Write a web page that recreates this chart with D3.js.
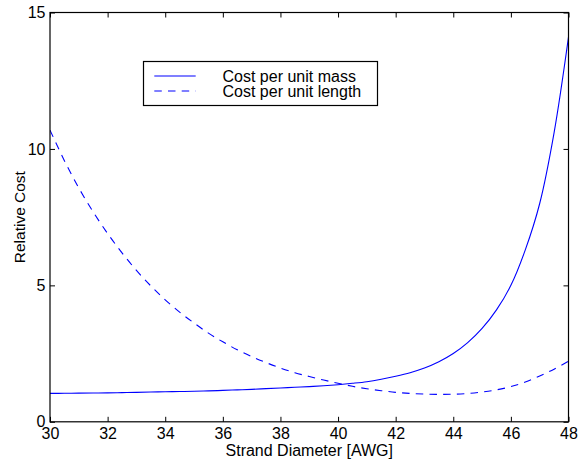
<!DOCTYPE html>
<html>
<head>
<meta charset="utf-8">
<script src="https://cdn.jsdelivr.net/npm/d3@7"></script>
<style>
  html, body { margin: 0; padding: 0; background: #fff; }
  svg { display: block; }
  text { font-family: "Liberation Sans", Arial, Helvetica, sans-serif; fill: #000; }
</style>
</head>
<body>
<svg id="chart" width="581" height="461"></svg>
<script>
// ---- data ----
const awg = [30, 30.5, 31, 31.5, 32, 32.5, 33, 33.5, 34, 34.5, 35, 35.5, 36, 36.5, 37, 37.5, 38, 38.5, 39, 39.5,
             40, 40.5, 41, 41.5, 42, 42.5, 43, 43.5, 44, 44.5, 45, 45.5, 46, 46.5, 47, 47.5, 48];
const costPerMass = [1.04, 1.045, 1.05, 1.055, 1.06, 1.07, 1.08, 1.09, 1.10, 1.11, 1.12, 1.135, 1.15, 1.17, 1.19, 1.215, 1.24, 1.265, 1.29, 1.32,
                     1.36, 1.41, 1.47, 1.56, 1.67, 1.80, 1.97, 2.2, 2.5, 2.9, 3.42, 4.1, 5.0, 6.3, 8.0, 10.6, 14.1];
const costPerLength = [10.69, 9.57, 8.57, 7.69, 6.90, 6.19, 5.55, 4.98, 4.47, 4.02, 3.62, 3.25, 2.93, 2.64, 2.39, 2.17, 1.97, 1.80, 1.66, 1.53,
                       1.41, 1.30, 1.21, 1.14, 1.08, 1.04, 1.015, 1.005, 1.01, 1.035, 1.09, 1.17, 1.29, 1.46, 1.68, 1.93, 2.22];
const seriesNames = ["Cost per unit mass", "Cost per unit length"];
const xTicks = [30, 32, 34, 36, 38, 40, 42, 44, 46, 48];
const yTicks = [0, 5, 10, 15];
const xLabel = "Strand Diameter [AWG]";
const yLabel = "Relative Cost";

// ---- layout ----
const L = 50, R = 568.5, T = 12.5, B = 421.8;
const svg = d3.select("#chart");
const x = d3.scaleLinear().domain([30, 48]).range([L, R]);
const y = d3.scaleLinear().domain([0, 15]).range([B, T]);
const blue = "#0000ff";

// curves (clipped to axes)
svg.append("clipPath").attr("id", "clip")
  .append("rect").attr("x", L).attr("y", T).attr("width", R - L).attr("height", B - T);

const line = d3.line().x(d => x(d[0])).y(d => y(d[1])).curve(d3.curveCatmullRom.alpha(0.5));
const g = svg.append("g").attr("clip-path", "url(#clip)");
g.append("path")
  .attr("d", line(awg.map((a, i) => [a, costPerMass[i]])))
  .attr("fill", "none").attr("stroke", blue).attr("stroke-width", 1.1);
g.append("path")
  .attr("d", line(awg.map((a, i) => [a, costPerLength[i]])))
  .attr("fill", "none").attr("stroke", blue).attr("stroke-width", 1.1)
  .attr("stroke-dasharray", "7.5,6.2");

// axes
const fs = 16;
function styleAxis(sel) {
  sel.select(".domain").remove();
  sel.selectAll(".tick line").attr("stroke", "#000").attr("stroke-width", 1);
  sel.selectAll(".tick text").attr("font-size", fs).attr("font-family", "Liberation Sans, Arial, sans-serif").attr("fill", "#000");
}
svg.append("g").attr("transform", `translate(0,${B})`)
  .call(d3.axisBottom(x).tickValues(xTicks).tickFormat(d3.format("d")).tickSize(-5).tickPadding(6))
  .call(styleAxis);
svg.append("g").attr("transform", `translate(0,${T})`)
  .call(d3.axisTop(x).tickValues(xTicks).tickFormat("").tickSize(-5))
  .call(styleAxis);
svg.append("g").attr("transform", `translate(${L},0)`)
  .call(d3.axisLeft(y).tickValues(yTicks).tickFormat(d3.format("d")).tickSize(-5).tickPadding(4.5))
  .call(styleAxis);
svg.append("g").attr("transform", `translate(${R},0)`)
  .call(d3.axisRight(y).tickValues(yTicks).tickFormat("").tickSize(-5))
  .call(styleAxis);

// frame
svg.append("rect").attr("x", L).attr("y", T).attr("width", R - L).attr("height", B - T)
  .attr("fill", "none").attr("stroke", "#000").attr("stroke-width", 1.2);

// axis labels
svg.append("text").attr("x", (L + R) / 2).attr("y", 456)
  .attr("text-anchor", "middle").attr("font-size", 16).text(xLabel);
svg.append("text").attr("transform", `translate(24.5,${(T + B) / 2}) rotate(-90)`)
  .attr("text-anchor", "middle").attr("font-size", 15.5).text(yLabel);

// legend
const lg = svg.append("g");
lg.append("rect").attr("x", 143.5).attr("y", 61.5).attr("width", 234).attr("height", 44)
  .attr("fill", "#fff").attr("stroke", "#000").attr("stroke-width", 1.2);
const legendRows = [
  { name: seriesNames[0], dash: null, ly: 76, ty: 81.7 },
  { name: seriesNames[1], dash: "7.5,6.2", ly: 91, ty: 96.5 }
];
legendRows.forEach(r => {
  lg.append("line").attr("x1", 154.3).attr("x2", 195.7).attr("y1", r.ly).attr("y2", r.ly)
    .attr("stroke", blue).attr("stroke-width", 1.1)
    .attr("stroke-dasharray", r.dash);
  lg.append("text").attr("x", 222.5).attr("y", r.ty).attr("font-size", 16).text(r.name);
});
</script>
</body>
</html>
